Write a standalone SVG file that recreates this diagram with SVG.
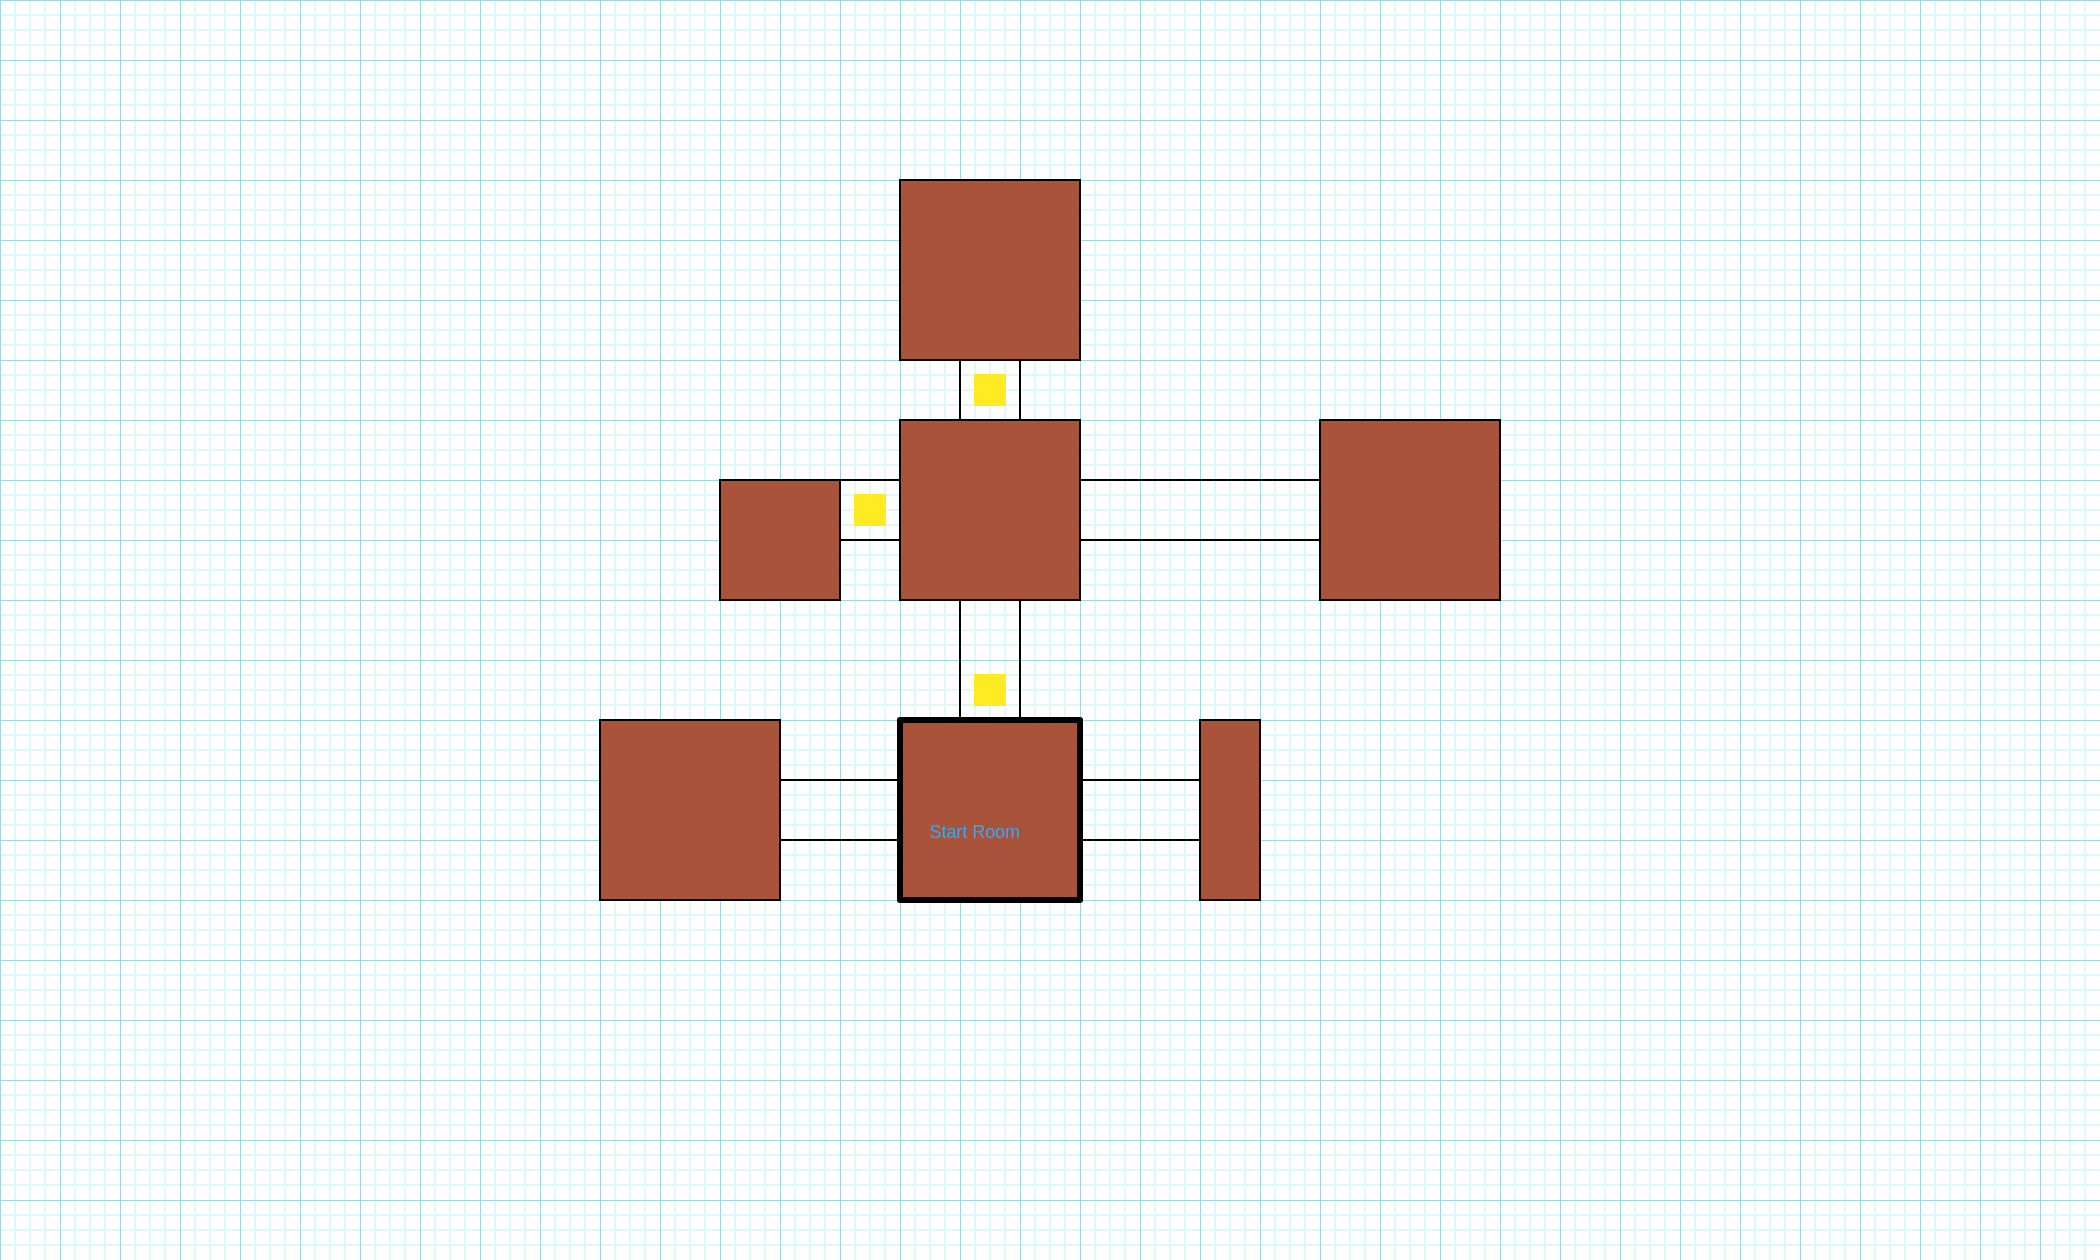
<svg xmlns="http://www.w3.org/2000/svg" width="2100" height="1260" viewBox="0 0 2100 1260">
  <defs>
    <pattern id="grid" x="0" y="0" width="60" height="60" patternUnits="userSpaceOnUse">
      <rect x="0" y="0" width="60" height="60" fill="#ffffff"/>
      <g fill="#dff8fa">
        <rect x="14" y="0" width="2" height="60"/>
        <rect x="29" y="0" width="2" height="60"/>
        <rect x="44" y="0" width="2" height="60"/>
        <rect x="0" y="14" width="60" height="2"/>
        <rect x="0" y="29" width="60" height="2"/>
        <rect x="0" y="44" width="60" height="2"/>
      </g>
      <g fill="#9fdae3">
        <rect x="0" y="0" width="1" height="60"/>
        <rect x="0" y="0" width="60" height="1"/>
      </g>
    </pattern>
    <style>
      .room { fill: #a9533a; stroke: #000000; stroke-width: 2; }
      .start { stroke-width: 6; stroke-linejoin: round; }
      .wall { stroke: #000000; stroke-width: 2; fill: none; }
      .door { fill: #ffeb22; }
      .label { font-family: "Liberation Sans", Arial, sans-serif; font-size: 17.9px; fill: #33a3e8; }
    </style>
  </defs>
  <rect x="0" y="0" width="2100" height="1260" fill="url(#grid)"/>

  <g id="connectors">
    <line class="wall" x1="960" y1="360" x2="960" y2="420"/>
    <line class="wall" x1="1020" y1="360" x2="1020" y2="420"/>
    <line class="wall" x1="840" y1="480" x2="900" y2="480"/>
    <line class="wall" x1="840" y1="540" x2="900" y2="540"/>
    <line class="wall" x1="1080" y1="480" x2="1320" y2="480"/>
    <line class="wall" x1="1080" y1="540" x2="1320" y2="540"/>
    <line class="wall" x1="960" y1="600" x2="960" y2="720"/>
    <line class="wall" x1="1020" y1="600" x2="1020" y2="720"/>
    <line class="wall" x1="780" y1="780" x2="900" y2="780"/>
    <line class="wall" x1="780" y1="840" x2="900" y2="840"/>
    <line class="wall" x1="1080" y1="780" x2="1200" y2="780"/>
    <line class="wall" x1="1080" y1="840" x2="1200" y2="840"/>
  </g>

  <g id="doors">
    <rect class="door" x="974" y="374" width="32" height="32" rx="1"/>
    <rect class="door" x="854" y="494" width="32" height="32" rx="1"/>
    <rect class="door" x="974" y="674" width="32" height="32" rx="1"/>
  </g>

  <g id="room-top"><rect class="room" x="900" y="180" width="180" height="180"/></g>
  <g id="room-center"><rect class="room" x="900" y="420" width="180" height="180"/></g>
  <g id="room-left-small"><rect class="room" x="720" y="480" width="120" height="120"/></g>
  <g id="room-right"><rect class="room" x="1320" y="420" width="180" height="180"/></g>
  <g id="room-bottom-left"><rect class="room" x="600" y="720" width="180" height="180"/></g>
  <g id="room-bottom-right"><rect class="room" x="1200" y="720" width="60" height="180"/></g>
  <g id="room-start">
    <rect class="room start" x="900" y="720" width="180" height="180"/>
    <text class="label" x="930" y="837.5">Start Room</text>
  </g>
</svg>
